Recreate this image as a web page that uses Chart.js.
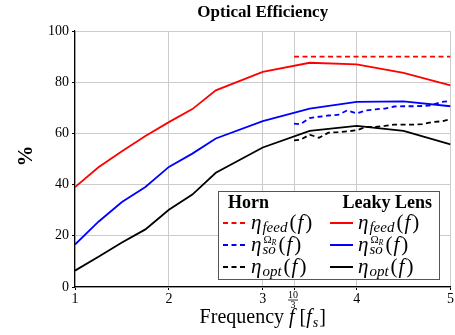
<!DOCTYPE html>
<html>
<head>
<meta charset="utf-8">
<script src="https://cdn.jsdelivr.net/npm/chart.js@4.4.1/dist/chart.umd.min.js"></script>
<style>
    html, body { margin: 0; padding: 0; background: #fff; }
    #wrap { width: 455px; height: 335px; position: relative; }
</style>
</head>
<body>
<div id="wrap"><canvas id="effChart" width="455" height="335"></canvas></div>
<script>
// Leaky lens, frequency in units of f_s
var freqLens = [1, 1.25, 1.5, 1.75, 2, 2.25, 2.5, 3, 3.5, 4, 4.5, 5];
var feedLens = [39, 46.8, 53, 59, 64.4, 69.5, 76.8, 84, 87.6, 87, 83.6, 78.8];
var soLens   = [16.6, 25.5, 33.2, 39.1, 46.9, 52.1, 58, 64.8, 69.7, 72.3, 72.5, 70.6];
var optLens  = [6.4, 11.8, 17.4, 22.5, 30.2, 36.1, 44.6, 54.5, 61, 62.9, 61, 55.7];

// Horn, only from 10/3 f_s up
var freqHorn = [3.333, 3.4, 3.5, 3.6, 3.7, 3.8, 3.9, 4, 4.1, 4.2, 4.3, 4.4, 4.5, 4.6, 4.7, 4.8, 4.9, 5];
var feedHorn = [90, 90, 90, 90, 90, 90, 90, 90, 90, 90, 90, 90, 90, 90, 90, 90, 90, 90];
var soHorn   = [63.8, 63.6, 66, 66.5, 67, 67.2, 69, 67.8, 69, 69.4, 69.7, 70.5, 70.6, 70.6, 70.7, 71, 72.3, 72.6];
var optHorn  = [57.3, 57.5, 59.5, 58.3, 60.3, 60.5, 60.8, 61.2, 62.5, 62.5, 62.9, 63.4, 63.4, 63.4, 63.6, 64.4, 64.7, 65.5];

var xTicks = [1, 2, 3, 10 / 3, 4, 5];
var yTicks = [0, 20, 40, 60, 80, 100];

var serif = '"Liberation Serif", "DejaVu Serif", serif';

function toPoints(xs, ys) {
    var pts = [];
    for (var i = 0; i < xs.length; i++) {
        pts.push({ x: xs[i], y: ys[i] });
    }
    return pts;
}

function isThird(v) {
    return Math.abs(v - 10 / 3) < 1e-6;
}

// eta with subscript (and the Omega_R superscript if asked)
function drawEta(ctx, x, y, sub, withOmega) {
    ctx.textAlign = 'left';
    ctx.textBaseline = 'alphabetic';
    ctx.font = 'italic 21px ' + serif;
    ctx.fillText('η', x, y);
    x += ctx.measureText('η').width + 1;
    var w = 0;
    if (withOmega) {
        ctx.font = '11px ' + serif;
        ctx.fillText('Ω', x + 1, y - 8);
        var ow = ctx.measureText('Ω').width + 1;
        ctx.font = 'italic 8px ' + serif;
        ctx.fillText('R', x + ow, y - 6);
        w = ow + ctx.measureText('R').width + 1;
    }
    ctx.font = 'italic 15px ' + serif;
    ctx.fillText(sub, x, y + 3);
    w = Math.max(w, ctx.measureText(sub).width + 1);
    x += w + 1;
    ctx.font = '21px ' + serif;
    ctx.fillText('(', x, y);
    x += ctx.measureText('(').width + 1;
    ctx.font = 'italic 21px ' + serif;
    ctx.fillText('f', x, y);
    x += ctx.measureText('f').width + 2;
    ctx.font = '21px ' + serif;
    ctx.fillText(')', x, y);
}

var decorPlugin = {
    id: 'decor',
    afterDraw: function(chart) {
        var ctx = chart.ctx;
        var area = chart.chartArea;
        var xs = chart.scales.x;
        var cx = (area.left + area.right) / 2;
        ctx.save();
        ctx.fillStyle = '#000';

        // title
        ctx.font = 'bold 17px ' + serif;
        ctx.textAlign = 'center';
        ctx.textBaseline = 'alphabetic';
        ctx.fillText('Optical Efficiency', cx, 17);

        // y title
        ctx.save();
        ctx.translate(32, (area.top + area.bottom) / 2 - 3);
        ctx.rotate(-Math.PI / 2);
        ctx.font = 'bold 21px ' + serif;
        ctx.fillText('%', 0, 0);
        ctx.restore();

        // x title: Frequency f [f_s]
        ctx.textAlign = 'left';
        var parts = [['Frequency ', '20px '], ['f', 'italic 20px '], [' [', '20px '], ['f', 'italic 20px ']];
        var total = 0;
        for (var i = 0; i < parts.length; i++) {
            ctx.font = parts[i][1] + serif;
            total += ctx.measureText(parts[i][0]).width;
        }
        ctx.font = 'italic 14px ' + serif;
        var sw = ctx.measureText('s').width;
        ctx.font = '20px ' + serif;
        total += sw + ctx.measureText(']').width + 2;
        var tx = cx - total / 2;
        var ty = 323;
        for (var i = 0; i < parts.length; i++) {
            ctx.font = parts[i][1] + serif;
            ctx.fillText(parts[i][0], tx, ty);
            tx += ctx.measureText(parts[i][0]).width;
        }
        ctx.font = 'italic 14px ' + serif;
        ctx.fillText('s', tx + 1, ty + 4);
        tx += sw + 2;
        ctx.font = '20px ' + serif;
        ctx.fillText(']', tx, ty);

        // 10/3 fraction tick label
        var fx = xs.getPixelForValue(10 / 3);
        ctx.textAlign = 'center';
        ctx.font = '10px ' + serif;
        ctx.fillText('10', fx - 1, 298);
        ctx.fillText('3', fx - 1, 308);
        ctx.lineWidth = 0.8;
        ctx.strokeStyle = '#000';
        ctx.beginPath();
        ctx.moveTo(fx - 6, 300);
        ctx.lineTo(fx + 4, 300);
        ctx.stroke();

        // legend box
        var bx = 218, by = 191, bw = 221, bh = 88;
        ctx.fillStyle = '#fff';
        ctx.fillRect(bx, by, bw, bh);
        ctx.strokeStyle = '#555';
        ctx.lineWidth = 1;
        ctx.strokeRect(bx + 0.5, by + 0.5, bw, bh);

        ctx.fillStyle = '#000';
        ctx.textAlign = 'left';
        ctx.font = 'bold 18px ' + serif;
        ctx.fillText('Horn', 228, 208);
        ctx.textAlign = 'right';
        ctx.fillText('Leaky Lens', 432, 208);

        var ds = chart.data.datasets;
        var rowsY = [223, 245, 267];
        for (var i = 0; i < ds.length; i++) {
            var d = ds[i];
            var col = d.group === 'horn' ? 0 : 1;
            var lx = col === 0 ? 223 : 330;
            var ly = rowsY[d.row];
            ctx.strokeStyle = d.borderColor;
            ctx.lineWidth = 2;
            ctx.setLineDash(d.borderDash || []);
            ctx.beginPath();
            ctx.moveTo(lx, ly);
            ctx.lineTo(lx + 23, ly);
            ctx.stroke();
            ctx.setLineDash([]);
            ctx.fillStyle = '#000';
            drawEta(ctx, lx + 28, ly + 6, d.sub, d.omega);
        }
        ctx.restore();
    }
};

var ctx = document.getElementById('effChart').getContext('2d');
var dash = [5, 3.5];

var effChart = new Chart(ctx, {
    type: 'line',
    data: {
        datasets: [
            { label: 'Horn feed', group: 'horn', row: 0, sub: 'feed', data: toPoints(freqHorn, feedHorn), borderColor: '#ff0000', borderDash: dash },
            { label: 'Horn so', group: 'horn', row: 1, sub: 'so', omega: true, data: toPoints(freqHorn, soHorn), borderColor: '#0000ff', borderDash: dash },
            { label: 'Horn opt', group: 'horn', row: 2, sub: 'opt', data: toPoints(freqHorn, optHorn), borderColor: '#000000', borderDash: dash },
            { label: 'Lens feed', group: 'lens', row: 0, sub: 'feed', data: toPoints(freqLens, feedLens), borderColor: '#ff0000' },
            { label: 'Lens so', group: 'lens', row: 1, sub: 'so', omega: true, data: toPoints(freqLens, soLens), borderColor: '#0000ff' },
            { label: 'Lens opt', group: 'lens', row: 2, sub: 'opt', data: toPoints(freqLens, optLens), borderColor: '#000000' }
        ]
    },
    options: {
        responsive: false,
        animation: false,
        devicePixelRatio: 1,
        layout: { padding: { left: 0, right: 4, top: 31, bottom: 0 } },
        elements: {
            line: { borderWidth: 1.8, tension: 0, fill: false },
            point: { radius: 0 }
        },
        plugins: {
            legend: { display: false },
            title: { display: false },
            tooltip: { enabled: false }
        },
        scales: {
            x: {
                type: 'linear',
                min: 1,
                max: 5,
                afterBuildTicks: function(scale) {
                    scale.ticks = xTicks.map(function(v) { return { value: v }; });
                },
                afterFit: function(scale) { scale.height = 48; },
                grid: { color: '#cccccc', tickColor: '#000', tickLength: 3, lineWidth: 1 },
                border: { color: '#000', width: 1.2 },
                ticks: {
                    color: '#000',
                    font: { family: serif, size: 14 },
                    padding: 1,
                    maxRotation: 0,
                    autoSkip: false,
                    callback: function(value) {
                        return isThird(value) ? '' : value;
                    }
                }
            },
            y: {
                min: 0,
                max: 100,
                afterBuildTicks: function(scale) {
                    scale.ticks = yTicks.map(function(v) { return { value: v }; });
                },
                afterFit: function(scale) { scale.width = 75; },
                grid: { color: '#cccccc', tickColor: '#000', tickLength: 3, lineWidth: 1 },
                border: { color: '#000', width: 1.2 },
                ticks: {
                    color: '#000',
                    font: { family: serif, size: 14 },
                    padding: 3
                }
            }
        }
    },
    plugins: [decorPlugin]
});
</script>
</body>
</html>
